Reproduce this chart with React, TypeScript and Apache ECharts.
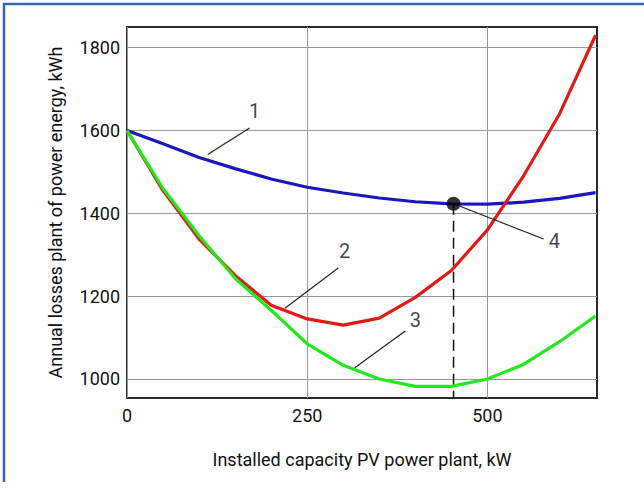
import React, { useEffect, useRef } from "react";
import * as echarts from "echarts";

const xValues = [0, 50, 100, 150, 200, 250, 300, 350, 400, 450, 500, 550, 600, 650];
const curve1 = [1600, 1568, 1535, 1508, 1483, 1463, 1449, 1437, 1428, 1423, 1422, 1427, 1436, 1450];
const curve2 = [1600, 1455, 1338, 1250, 1178, 1145, 1130, 1147, 1197, 1262, 1360, 1490, 1640, 1830];
const curve3 = [1600, 1460, 1346, 1243, 1166, 1085, 1033, 1000, 982, 982, 1000, 1035, 1090, 1152];

const xTicks = [0, 250, 500];
const yTicks = [1000, 1200, 1400, 1600, 1800];

const optimumX = 453;
const optimumY = 1423;

const leaders = [
  { name: "1", from: [112, 1542], to: [170, 1606], label: [177, 1647] },
  { name: "2", from: [219, 1171], to: [293, 1268], label: [302, 1308] },
  { name: "3", from: [316, 1027], to: [386, 1116], label: [400, 1143] },
  { name: "4", from: [462, 1417], to: [578, 1338], label: [593, 1332] },
];

const xMin = 0;
const xMax = 652;
const yMin = 954;
const yMax = 1850;

const FONT = "Roboto, 'Liberation Sans', sans-serif";

export default function App() {
  const ref = useRef<HTMLDivElement>(null);
  useEffect(() => {
    document.body.style.margin = "0";
    if (!ref.current) return;
    const chart = echarts.init(ref.current, null, { renderer: "svg" });
    const pair = (ys: number[]) => xValues.map((x, i) => [x, ys[i]]);
    const curveSeries = (name: string, ys: number[], color: string) => ({
      name,
      type: "line",
      data: pair(ys),
      showSymbol: false,
      symbol: "none",
      lineStyle: { color, width: 3.2 },
      z: 3,
    });
    const series: any[] = [
      curveSeries("1", curve1, "#1a18bc"),
      curveSeries("2", curve2, "#e01a14"),
      curveSeries("3", curve3, "#22e81e"),
      {
        type: "line",
        data: [
          [optimumX, optimumY],
          [optimumX, yMin],
        ],
        symbol: "none",
        lineStyle: { color: "#111", width: 1.5, type: [11, 6] },
        z: 2,
      },
      ...leaders.map((l) => ({
        type: "line",
        data: [l.from, l.to],
        symbol: "none",
        lineStyle: { color: "#222", width: 1.2 },
        z: 4,
      })),
      {
        type: "scatter",
        data: leaders.map((l) => ({ name: l.name, value: l.label })),
        symbolSize: 0,
        label: {
          show: true,
          position: "inside",
          formatter: "{b}",
          fontFamily: FONT,
          fontSize: 20,
          color: "#111",
        },
        z: 5,
      },
      {
        type: "scatter",
        data: [[optimumX, optimumY]],
        symbolSize: 14,
        itemStyle: { color: "#000" },
        z: 6,
      },
    ];
    chart.setOption({
      animation: false,
      backgroundColor: "#fff",
      graphic: [
        {
          type: "polyline",
          shape: { points: [[4, 482], [4, 4], [644, 4]] },
          style: { stroke: "#3b63b3", lineWidth: 2.5, fill: "none" },
        },
      ],
      grid: {
        left: 127,
        top: 27,
        right: 47,
        bottom: 90,
        show: true,
        borderColor: "#2a2a2a",
        borderWidth: 2,
      },
      xAxis: {
        type: "value",
        min: xMin,
        max: xMax,
        name: "Installed capacity PV power plant, kW",
        nameLocation: "middle",
        nameGap: 52,
        nameTextStyle: { fontFamily: FONT, fontSize: 18, color: "#111" },
        axisLine: { show: false },
        axisTick: { show: false, customValues: xTicks },
        axisLabel: {
          customValues: xTicks,
          formatter: (v: number) => String(v),
          fontFamily: FONT,
          fontSize: 18,
          color: "#111",
          margin: 8,
        },
        splitLine: { show: true, lineStyle: { color: "#999", width: 1 } },
      },
      yAxis: {
        type: "value",
        min: yMin,
        max: yMax,
        name: "Annual losses plant of power energy, kWh",
        nameLocation: "middle",
        nameGap: 63,
        nameTextStyle: { fontFamily: FONT, fontSize: 18, color: "#111" },
        axisLine: { show: false },
        axisTick: { show: false, customValues: yTicks },
        axisLabel: {
          customValues: yTicks,
          formatter: (v: number) => String(v),
          fontFamily: FONT,
          fontSize: 18,
          color: "#111",
          margin: 7,
        },
        splitLine: { show: true, lineStyle: { color: "#999", width: 1 } },
      },
      series,
    });
    return () => chart.dispose();
  }, []);
  return <div ref={ref} style={{ width: 644, height: 488 }} />;
}
